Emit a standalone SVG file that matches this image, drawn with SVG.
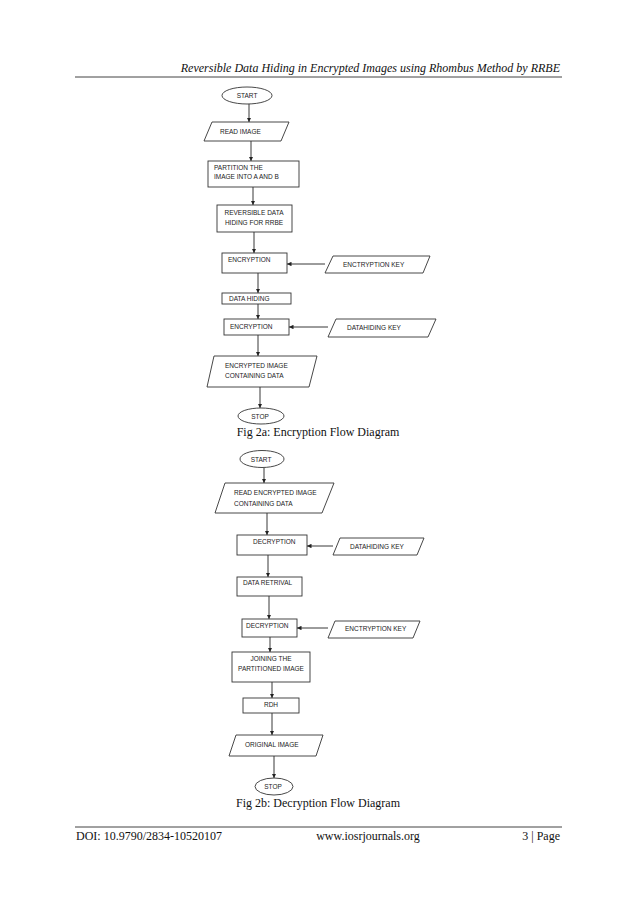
<svg xmlns="http://www.w3.org/2000/svg" width="638" height="902" viewBox="0 0 638 902">
<style>
.s{fill:#fff;stroke:#333;stroke-width:0.9}
.t{font-family:"Liberation Sans",Arial,sans-serif;font-size:6.5px;fill:#222}
.c{text-anchor:middle}
.ln{stroke:#222;stroke-width:0.9;fill:none;marker-end:url(#a)}
.cap{font-family:"Liberation Serif","Times New Roman",serif;font-size:12px;fill:#111}
</style>
<defs><marker id="a" viewBox="0 0 6 6" refX="6" refY="3" markerWidth="5" markerHeight="5" orient="auto"><path d="M0,0L6,3L0,6z" fill="#222"/></marker></defs>
<rect width="638" height="902" fill="#fff"/>
<text class="cap" x="560" y="72" text-anchor="end" font-style="italic" font-size="13">Reversible Data Hiding in Encrypted Images using Rhombus Method by RRBE</text>
<line x1="75" y1="77" x2="562" y2="77" stroke="#111" stroke-width="0.8"/>
<line x1="75" y1="827" x2="562" y2="827" stroke="#111" stroke-width="0.8"/>
<text class="cap" x="76" y="840">DOI: 10.9790/2834-10520107</text>
<text class="cap" x="368" y="840" text-anchor="middle">www.iosrjournals.org</text>
<text class="cap" x="560" y="840" text-anchor="end">3 | Page</text>
<g id="connectors">
<line class="ln" x1="249" y1="104" x2="249" y2="122"/>
<line class="ln" x1="251" y1="141" x2="251" y2="161"/>
<line class="ln" x1="253" y1="187" x2="253" y2="205"/>
<line class="ln" x1="254" y1="232" x2="254" y2="253"/>
<line class="ln" x1="325" y1="264" x2="287" y2="264"/>
<line class="ln" x1="258" y1="273" x2="258" y2="293"/>
<line class="ln" x1="258" y1="304" x2="258" y2="319"/>
<line class="ln" x1="328" y1="327" x2="289" y2="327"/>
<line class="ln" x1="258" y1="335" x2="258" y2="356"/>
<line class="ln" x1="260" y1="387" x2="260" y2="408"/>
<line class="ln" x1="264" y1="468" x2="264" y2="483"/>
<line class="ln" x1="267" y1="513" x2="267" y2="535"/>
<line class="ln" x1="333" y1="546" x2="307" y2="546"/>
<line class="ln" x1="268" y1="555" x2="268" y2="577"/>
<line class="ln" x1="269" y1="596" x2="269" y2="619"/>
<line class="ln" x1="328" y1="628" x2="297" y2="628"/>
<line class="ln" x1="270" y1="637" x2="270" y2="652"/>
<line class="ln" x1="272" y1="682" x2="272" y2="698"/>
<line class="ln" x1="272" y1="713" x2="272" y2="735"/>
<line class="ln" x1="274" y1="756" x2="274" y2="778"/>
</g>
<g id="start1"><ellipse class="s" cx="247" cy="95.5" rx="25" ry="8.5"/><text class="t c" x="247" y="98">START</text></g>
<g id="read1"><polygon class="s" points="212,122 289,122 281,141 204,141"/><text class="t" x="220" y="134">READ  IMAGE</text></g>
<g id="partition"><rect class="s" x="208" y="161" width="91" height="26"/><text class="t" x="214" y="170">PARTITION THE</text><text class="t" x="214" y="179">IMAGE INTO A AND B</text></g>
<g id="rdh1"><rect class="s" x="217" y="205" width="75" height="27"/><text class="t c" x="254" y="215">REVERSIBLE DATA</text><text class="t c" x="254" y="225">HIDING FOR RRBE</text></g>
<g id="enc1"><rect class="s" x="222" y="253" width="65" height="20"/><text class="t" x="228" y="262">ENCRYPTION</text></g>
<g id="enckey1"><polygon class="s" points="333,256 430,256 423,273 325,273"/><text class="t" x="343" y="267">ENCTRYPTION KEY</text></g>
<g id="datahiding"><rect class="s" x="222" y="293" width="69" height="11"/><text class="t" x="229" y="301">DATA HIDING</text></g>
<g id="enc2"><rect class="s" x="224" y="319" width="65" height="16"/><text class="t" x="230" y="329">ENCRYPTION</text></g>
<g id="dhkey1"><polygon class="s" points="336,319 436,319 428,337 328,337"/><text class="t" x="347" y="329.5">DATAHIDING KEY</text></g>
<g id="encimg"><polygon class="s" points="214,356 317,356 309,387 207,387"/><text class="t" x="225" y="368">ENCRYPTED IMAGE</text><text class="t" x="225" y="378">CONTAINING DATA</text></g>
<g id="stop1"><ellipse class="s" cx="261" cy="416" rx="23" ry="8"/><text class="t c" x="260" y="418.5">STOP</text></g>
<text class="cap" x="318" y="436" text-anchor="middle">Fig 2a: Encryption Flow Diagram</text>
<g id="start2"><ellipse class="s" cx="262" cy="459" rx="22" ry="8.5"/><text class="t c" x="261" y="461.5">START</text></g>
<g id="readenc"><polygon class="s" points="225,483 334,483 322,513 215,513"/><text class="t" x="234" y="495">READ ENCRYPTED  IMAGE</text><text class="t" x="234" y="506">CONTAINING DATA</text></g>
<g id="dec1"><rect class="s" x="237" y="535" width="70" height="20"/><text class="t" x="253" y="544">DECRYPTION</text></g>
<g id="dhkey2"><polygon class="s" points="340,538 424,538 417,555 333,555"/><text class="t" x="350" y="548.5">DATAHIDING KEY</text></g>
<g id="retrival"><rect class="s" x="237" y="577" width="65" height="19"/><text class="t" x="243" y="585">DATA RETRIVAL</text></g>
<g id="dec2"><rect class="s" x="242" y="619" width="55" height="18"/><text class="t" x="246" y="628">DECRYPTION</text></g>
<g id="enckey2"><polygon class="s" points="335,621 420,621 413,638 328,638"/><text class="t" x="345" y="631">ENCTRYPTION KEY</text></g>
<g id="joining"><rect class="s" x="232" y="652" width="78" height="30"/><text class="t c" x="271" y="661">JOINING THE</text><text class="t c" x="271" y="671">PARTITIONED IMAGE</text></g>
<g id="rdh2"><rect class="s" x="243" y="698" width="56" height="15"/><text class="t c" x="271" y="707">RDH</text></g>
<g id="orig"><polygon class="s" points="236,735 323,735 316,756 229,756"/><text class="t" x="245" y="746.5">ORIGINAL IMAGE</text></g>
<g id="stop2"><ellipse class="s" cx="274" cy="786.5" rx="19" ry="8.5"/><text class="t c" x="273" y="789">STOP</text></g>
<text class="cap" x="318" y="807" text-anchor="middle">Fig 2b: Decryption Flow Diagram</text>
</svg>
